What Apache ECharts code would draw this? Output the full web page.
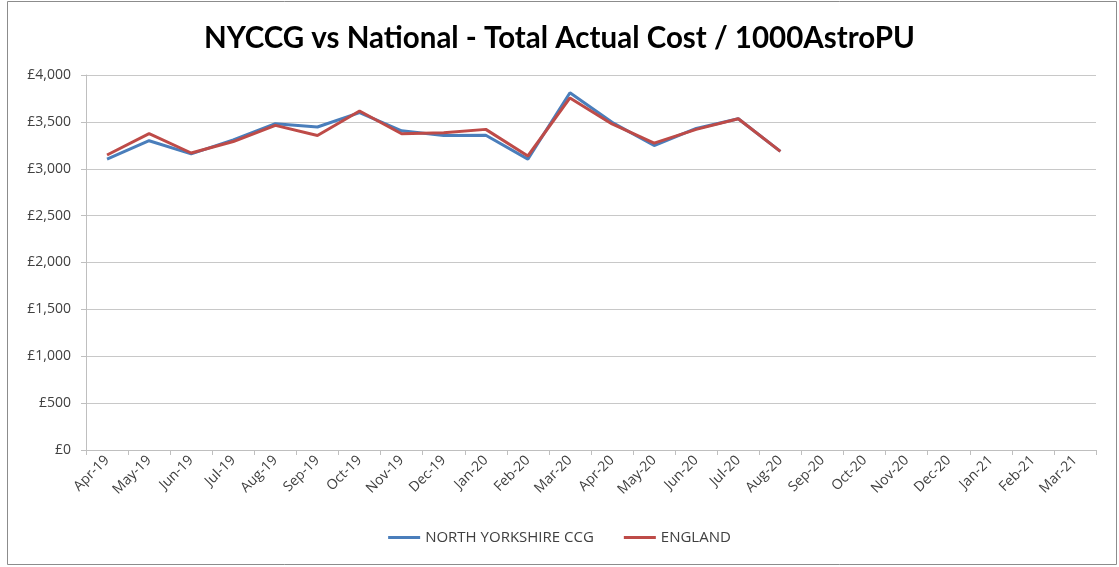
<!DOCTYPE html>
<html><head><meta charset="utf-8">
<script src="https://cdn.jsdelivr.net/npm/echarts@6/dist/echarts.min.js"></script>
<style>html,body{margin:0;padding:0;background:#fff}#c{width:1119px;height:567px}</style>
</head><body><div id="c"></div>
<script>
const categories = ['Apr-19','May-19','Jun-19','Jul-19','Aug-19','Sep-19','Oct-19','Nov-19','Dec-19','Jan-20','Feb-20','Mar-20','Apr-20','May-20','Jun-20','Jul-20','Aug-20','Sep-20','Oct-20','Nov-20','Dec-20','Jan-21','Feb-21','Mar-21'];
const nyccg = [3103,3299,3158,3308,3481,3445,3598,3405,3354,3357,3103,3810,3495,3248,3430,3533,3185,null,null,null,null,null,null,null];
const england = [3147,3375,3168,3290,3463,3354,3616,3373,3385,3420,3136,3755,3478,3274,3420,3533,3185,null,null,null,null,null,null,null];
const seriesNames = ['NORTH YORKSHIRE CCG','ENGLAND'];

const chart = echarts.init(document.getElementById('c'));
const font = "'Open Sans', sans-serif";
chart.setOption({
  animation:false,
  backgroundColor:'#fff',
  title:{text:'NYCCG vs National - Total Actual Cost / 1000AstroPU',left:'center',top:18,
    textStyle:{fontFamily:"Lato, sans-serif",fontWeight:'bold',fontSize:29.5,color:'#000'}},
  graphic:[{type:'rect',shape:{x:7.5,y:1.5,width:1109,height:563},style:{fill:'none',stroke:'#8c8c8c',lineWidth:1}}],
  legend:{bottom:17,left:'center',itemWidth:32,itemHeight:3,itemGap:30,icon:'rect',
    textStyle:{fontFamily:font,fontSize:15,color:'#404040'},data:seriesNames},
  grid:{left:86,right:23,top:75,bottom:117},
  xAxis:{type:'category',data:categories,boundaryGap:true,
    axisLine:{lineStyle:{color:'#bfbfbf'}},
    axisTick:{show:true,alignWithLabel:false,length:5,lineStyle:{color:'#bfbfbf'}},
    axisLabel:{rotate:45,interval:0,fontFamily:font,fontSize:14,color:'#404040',margin:8}},
  yAxis:{type:'value',min:0,max:4000,interval:500,
    axisLine:{show:true,lineStyle:{color:'#bfbfbf'}},
    axisTick:{show:true,length:5,lineStyle:{color:'#bfbfbf'}},
    splitLine:{lineStyle:{color:'#c8c8c8',width:1}},
    axisLabel:{fontFamily:font,fontSize:14,color:'#404040',margin:15,
      formatter:v=>'£'+v.toLocaleString('en-GB')}},
  series:[
    {name:seriesNames[0],type:'line',data:nyccg,symbol:'none',lineStyle:{width:3,color:'#4a7ebb'},itemStyle:{color:'#4a7ebb'}},
    {name:seriesNames[1],type:'line',data:england,symbol:'none',lineStyle:{width:3,color:'#be4b48'},itemStyle:{color:'#be4b48'}}
  ]
});
</script></body></html>
